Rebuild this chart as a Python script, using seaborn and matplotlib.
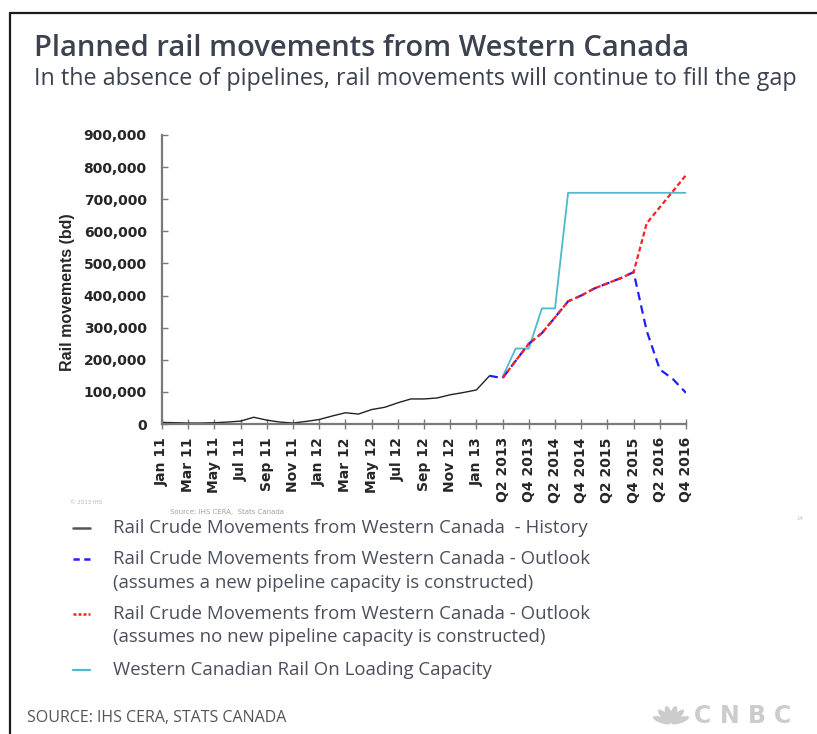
import numpy as np
import pandas as pd
import matplotlib
matplotlib.use("Agg")
import matplotlib.pyplot as plt
from matplotlib.lines import Line2D
from matplotlib.patches import Ellipse
import seaborn as sns

# ---- data -------------------------------------------------------------
months = ["Jan 11", "Feb 11", "Mar 11", "Apr 11", "May 11", "Jun 11", "Jul 11",
          "Aug 11", "Sep 11", "Oct 11", "Nov 11", "Dec 11", "Jan 12", "Feb 12",
          "Mar 12", "Apr 12", "May 12", "Jun 12", "Jul 12", "Aug 12", "Sep 12",
          "Oct 12", "Nov 12", "Dec 12", "Jan 13"]
quarters = ["Q1 2013", "Q2 2013", "Q3 2013", "Q4 2013", "Q1 2014", "Q2 2014",
            "Q3 2014", "Q4 2014", "Q1 2015", "Q2 2015", "Q3 2015", "Q4 2015",
            "Q1 2016", "Q2 2016", "Q3 2016", "Q4 2016"]
periods = months + quarters

history = [5000, 4000, 3000, 3000, 4000, 6000, 9000, 21000, 12000, 6000, 3000,
           8000, 14000, 25000, 35000, 31000, 45000, 52000, 66000, 78000, 78000,
           81000, 91000, 98000, 106000, 150000]
outlook_pipeline = [150000, 143000, 197000, 250000, 283000, 332000, 382000,
                    400000, 422000, 438000, 454000, 473000, 290000, 170000,
                    140000, 97000]
outlook_no_pipeline = [143000, 197000, 250000, 283000, 332000, 382000, 400000,
                       422000, 438000, 454000, 473000, 625000, 675000, 725000,
                       775000]
capacity = [147000, 235000, 235000, 360000, 360000, 720000, 720000, 720000,
            720000, 720000, 720000, 720000, 720000, 720000, 720000]

y_ticks = [0, 100000, 200000, 300000, 400000, 500000, 600000, 700000, 800000, 900000]
tick_every = 2

title = "Planned rail movements from Western Canada"
subtitle = "In the absence of pipelines, rail movements will continue to fill the gap"
legend_rows = [
    ("Rail Crude Movements from Western Canada  - History", None),
    ("Rail Crude Movements from Western Canada - Outlook",
     "(assumes a new pipeline capacity is constructed)"),
    ("Rail Crude Movements from Western Canada - Outlook",
     "(assumes no new pipeline capacity is constructed)"),
    ("Western Canadian Rail On Loading Capacity", None),
]
source = "SOURCE: IHS CERA, STATS CANADA"

# ---- tidy frames ------------------------------------------------------
n = len(periods)
idx = np.arange(n)
df_hist = pd.DataFrame({"x": idx[:len(history)], "y": history})
df_blue = pd.DataFrame({"x": idx[n - len(outlook_pipeline):], "y": outlook_pipeline})
df_red = pd.DataFrame({"x": idx[n - len(outlook_no_pipeline):], "y": outlook_no_pipeline})
df_cap = pd.DataFrame({"x": idx[n - len(capacity):], "y": capacity})

# ---- styling ----------------------------------------------------------
sns.set_style("white")
plt.rcParams["font.family"] = ["DejaVu Sans"]

W, H = 817, 734
fig = plt.figure(figsize=(W / 100, H / 100), dpi=100)


def fx(x):
    return x / W


def fy(y):
    return 1 - y / H


ax_left, ax_right, ax_bottom, ax_top = 162, 686, 424, 135
ax = fig.add_axes([fx(ax_left), fy(ax_bottom),
                   (ax_right - ax_left) / W, (ax_bottom - ax_top) / H])

COL_HIST = "#222222"
COL_BLUE = "#1f1fff"
COL_RED = "#ff2020"
COL_CAP = "#52b8cc"

sns.lineplot(data=df_cap, x="x", y="y", ax=ax, color=COL_CAP, linewidth=1.3)
sns.lineplot(data=df_hist, x="x", y="y", ax=ax, color=COL_HIST, linewidth=1.0)
sns.lineplot(data=df_blue, x="x", y="y", ax=ax, color=COL_BLUE, linewidth=1.6)
ax.lines[-1].set_dashes((3.8, 2.4))
sns.lineplot(data=df_red, x="x", y="y", ax=ax, color=COL_RED, linewidth=1.6)
ax.lines[-1].set_dashes((2.2, 1.3))

ax.set_xlim(0, n - 1)
ax.set_ylim(0, 900000)
ax.set_yticks(y_ticks)
ax.set_yticklabels([f"{v:,}" for v in y_ticks], fontsize=10, fontweight="bold",
                   family="DejaVu Sans")
xt = idx[::tick_every]
ax.set_xticks(xt)
ax.set_xticklabels([periods[i] for i in xt], rotation=90, fontsize=10,
                   fontweight="bold", family="DejaVu Sans", ha="center", va="top")
ax.set_xlabel("")
ax.set_ylabel("Rail movements (bd)", fontsize=11.5, fontweight="bold",
              family="Liberation Sans")
ax.yaxis.set_label_coords((75 - ax_left) / (ax_right - ax_left),
                          (ax_bottom - 292) / (ax_bottom - ax_top))

for s in ["top", "right"]:
    ax.spines[s].set_visible(False)
for s in ["left", "bottom"]:
    ax.spines[s].set_color("#7a7a7a")
    ax.spines[s].set_linewidth(1.6)
ax.tick_params(axis="y", direction="in", length=4, width=1.0, color="#7a7a7a",
               pad=11, left=True)
ax.tick_params(axis="x", direction="inout", length=7, width=1.0, color="#7a7a7a",
               pad=6, bottom=True)
ax.grid(False)

# ---- frame ------------------------------------------------------------
fig.add_artist(Line2D([fx(10), 1.0], [fy(13), fy(13)], color="#1a1a1a", lw=1.6))
fig.add_artist(Line2D([fx(10), fx(10)], [fy(13), 0.0], color="#1a1a1a", lw=1.6))

# ---- headings ---------------------------------------------------------
TXT = "#3c4250"
fig.text(fx(34), fy(48), title, fontsize=21.0, fontweight="semibold",
         family="Open Sans", color=TXT, va="center", ha="left")
fig.text(fx(34), fy(79), subtitle, fontsize=16.8, family="Open Sans",
         color=TXT, va="center", ha="left")

# ---- small print ------------------------------------------------------
fig.text(fx(70), fy(502), "\u00a9 2013 IHS", fontsize=4, color="#b5b5b5",
         va="center")
fig.text(fx(170), fy(512), "Source: IHS CERA,  Stats Canada", fontsize=5,
         color="#a0a0a0", va="center")
fig.text(fx(796), fy(518), "14", fontsize=4, color="#c0c0c0", va="center")

# ---- legend -----------------------------------------------------------
LEG = "#4a4f5b"
legend_y = [(528, None), (559, 583), (614, 637), (670, None)]
legend_styles = [
    dict(color="#555555", lw=1.8),
    dict(color=COL_BLUE, lw=1.8, dashes=(2.5, 1.8)),
    dict(color=COL_RED, lw=1.8, dashes=(1.2, 0.8)),
    dict(color=COL_CAP, lw=1.6),
]
for (l1, l2), (y1, y2), st in zip(legend_rows, legend_y, legend_styles):
    dashes = st.pop("dashes", None)
    ln = Line2D([fx(73), fx(90)], [fy(y1), fy(y1)], **st)
    if dashes:
        ln.set_dashes(dashes)
    fig.add_artist(ln)
    fig.text(fx(113), fy(y1), l1, fontsize=13.4, family="Open Sans", color=LEG,
             va="center", ha="left")
    if l2:
        fig.text(fx(113), fy(y2), l2, fontsize=13.4, family="Open Sans",
                 color=LEG, va="center", ha="left")

# ---- footer -----------------------------------------------------------
fig.text(fx(27), fy(718), source, fontsize=11.5, family="Open Sans",
         color="#555555", va="center", ha="left")

LOGO = "#cccccc"
cx, cy = 671, 724
for ang in [158, 130, 104, 76, 50, 22]:
    r = 10
    ex = cx + r * np.cos(np.radians(ang))
    ey = cy - r * np.sin(np.radians(ang))
    fig.add_artist(Ellipse((fx(ex), fy(ey)), width=6.5 / W, height=17 / H,
                           angle=ang - 90, transform=fig.transFigure,
                           color=LOGO, lw=0))
for ch, x0 in zip("CNBC", [694, 720, 748, 774]):
    fig.text(fx(x0), fy(716), ch, fontsize=17, fontweight="bold",
             family="DejaVu Sans", color=LOGO, va="center", ha="left")

fig.savefig("out.png", dpi=100)
